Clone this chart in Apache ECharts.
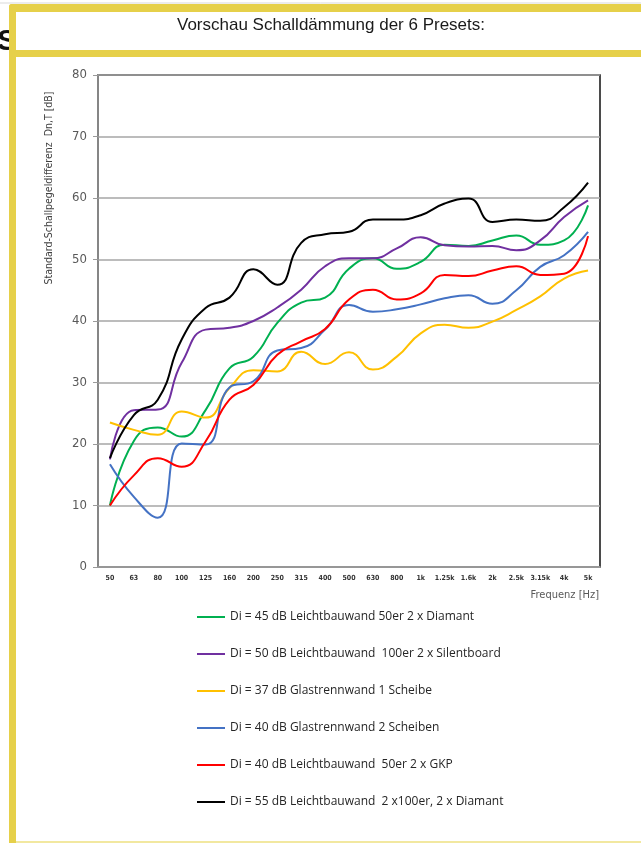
<!DOCTYPE html>
<html>
<head>
<meta charset="utf-8">
<script src="https://cdn.jsdelivr.net/npm/echarts@6/dist/echarts.min.js"></script>
<style>
html, body { margin: 0; padding: 0; background: #fff; }
#chart { width: 641px; height: 843px; }
</style>
</head>
<body>
<div id="chart"></div>
<script>
// Frequenzbaender
var frequencies = ['50', '63', '80', '100', '125', '160', '200', '250', '315', '400', '500', '630', '800', '1k', '1.25k', '1.6k', '2k', '2.5k', '3.15k', '4k', '5k'];

// Presets (Dn,T in dB)
var leicht50Diamant = [10, 20.5, 22.7, 21.2, 25.5, 32.3, 34.2, 39.7, 43, 43.8, 48.5, 50.2, 48.5, 49.6, 52.4, 52.2, 53.1, 53.9, 52.4, 53.1, 58.8];
var leicht100Silent = [17.5, 25.5, 25.6, 33.2, 38.6, 38.9, 40, 42.2, 45.1, 48.9, 50.2, 50.2, 51.8, 53.6, 52.3, 52.1, 52.2, 51.5, 53.1, 56.9, 59.6];
var glas1Scheibe = [23.5, 22.3, 21.5, 25.3, 24.3, 29.1, 32, 31.8, 35, 33, 34.9, 32.1, 34.2, 38, 39.4, 38.9, 39.9, 41.8, 44, 46.9, 48.2];
var glas2Scheiben = [16.7, 11.4, 8, 20.1, 19.9, 29.2, 30.2, 35.2, 35.6, 38.6, 42.6, 41.5, 41.9, 42.7, 43.7, 44.2, 42.8, 45, 48.8, 50.7, 54.5];
var leicht50Gkp = [10, 14.9, 17.7, 16.3, 20.4, 27.2, 29.6, 34.5, 36.7, 38.7, 43.5, 45.1, 43.5, 44.5, 47.5, 47.3, 48.2, 48.9, 47.5, 47.7, 53.8];
var leicht2x100Diamant = [17.7, 24.7, 27.2, 37, 42.1, 43.8, 48.4, 45.9, 52.7, 54.1, 54.5, 56.5, 56.5, 57.2, 59.1, 59.9, 56.1, 56.5, 56.3, 58.5, 62.5];

var presetNames = [
    'Di = 45 dB Leichtbauwand 50er 2 x Diamant',
    'Di = 50 dB Leichtbauwand  100er 2 x Silentboard',
    'Di = 37 dB Glastrennwand 1 Scheibe',
    'Di = 40 dB Glastrennwand 2 Scheiben',
    'Di = 40 dB Leichtbauwand  50er 2 x GKP',
    'Di = 55 dB Leichtbauwand  2 x100er, 2 x Diamant'
];
var presetColors = ['#00b050', '#7030a0', '#ffc000', '#4472c4', '#ff0000', '#000000'];
var presetValues = [leicht50Diamant, leicht100Silent, glas1Scheibe, glas2Scheiben, leicht50Gkp, leicht2x100Diamant];

var frameColor = '#e6d04a';
var condensed = '"Liberation Sans Narrow", "DejaVu Sans Condensed", "Roboto", sans-serif';

var presetChart = echarts.init(document.getElementById('chart'));

var presetSeries = presetNames.map(function (name, i) {
    return {
        name: name,
        type: 'line',
        data: presetValues[i],
        smooth: true,
        showSymbol: false,
        symbol: 'none',
        color: presetColors[i],
        lineStyle: { width: 2, color: presetColors[i] }
    };
});

var presetOptions = {
    backgroundColor: '#fff',
    animation: false,
    grid: {
        left: 98,
        right: 41,
        top: 75,
        bottom: 276,
        show: true,
        borderColor: '#111',
        borderWidth: 1.5
    },
    legend: {
        orient: 'vertical',
        left: 192,
        top: 606,
        icon: 'rect',
        itemWidth: 28,
        itemHeight: 2,
        itemGap: 25,
        data: presetNames,
        textStyle: {
            fontFamily: '"Open Sans", sans-serif',
            fontSize: 12,
            color: '#262626'
        }
    },
    xAxis: {
        type: 'category',
        data: frequencies,
        boundaryGap: true,
        axisLine: { lineStyle: { color: '#9a9a9a', width: 1.5 } },
        axisTick: { inside: true, alignWithLabel: true, interval: 0, length: 4, lineStyle: { color: '#9a9a9a' } },
        axisLabel: {
            interval: 0,
            margin: 8,
            fontSize: 7,
            fontWeight: 'bold',
            fontFamily: condensed,
            color: '#333'
        },
        splitLine: { show: false }
    },
    yAxis: {
        type: 'value',
        min: 0,
        max: 80,
        interval: 10,
        axisLine: { show: true, lineStyle: { color: '#9a9a9a', width: 1.5 } },
        axisTick: { show: true, length: 5, lineStyle: { color: '#9a9a9a' } },
        axisLabel: {
            margin: 11,
            fontSize: 13,
            fontFamily: condensed,
            color: '#595959'
        },
        splitLine: { lineStyle: { color: '#a6a6a6', width: 1.5 } }
    },
    graphic: [
        // Tabellenraster oben
        { type: 'line', shape: { x1: 0, y1: 3, x2: 641, y2: 3 }, style: { stroke: '#d9d9d9', lineWidth: 1 } },
        { type: 'text', left: -3, top: 27, style: { text: 'S', font: 'bold 30px "Liberation Sans", sans-serif', fill: '#111' } },
        // gelber Rahmen
        { type: 'rect', shape: { x: 9, y: 4, width: 632, height: 8, r: [3, 0, 0, 0] }, style: { fill: frameColor } },
        { type: 'rect', shape: { x: 9, y: 50, width: 632, height: 7 }, style: { fill: frameColor } },
        { type: 'rect', shape: { x: 9, y: 4, width: 7, height: 839, r: [3, 0, 0, 0] }, style: { fill: frameColor } },
        { type: 'rect', shape: { x: 16, y: 841, width: 625, height: 2 }, style: { fill: '#f2e8a0' } },
        {
            type: 'text', x: 331, y: 25,
            style: {
                text: 'Vorschau Schalldämmung der 6 Presets:',
                font: '17px "Liberation Sans", Arial, sans-serif',
                fill: '#1a1a1a', align: 'center', verticalAlign: 'middle'
            }
        },
        {
            type: 'text', x: 49, y: 188, rotation: Math.PI / 2,
            style: {
                text: 'Standard-Schallpegeldifferenz  Dn,T [dB]',
                font: '10.5px ' + condensed,
                fill: '#404040', align: 'center', verticalAlign: 'middle'
            }
        },
        {
            type: 'text', x: 599, y: 595,
            style: {
                text: 'Frequenz [Hz]',
                font: '11px ' + condensed,
                fill: '#595959', align: 'right', verticalAlign: 'middle'
            }
        }
    ],
    series: presetSeries
};
presetChart.setOption(presetOptions);
</script>
</body>
</html>
